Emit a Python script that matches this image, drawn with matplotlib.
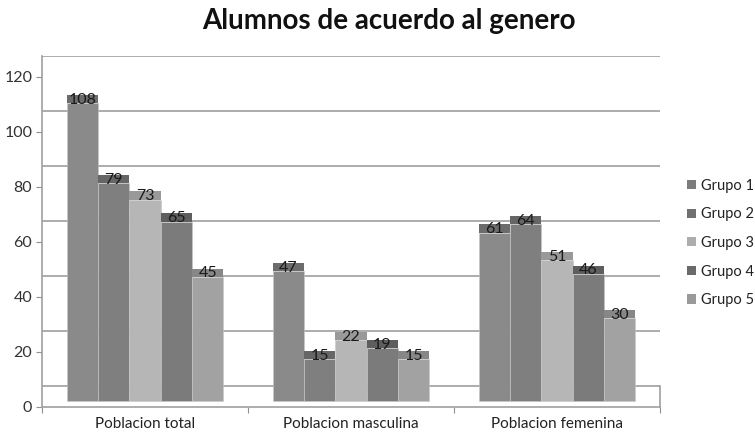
import matplotlib
matplotlib.use("Agg")
import matplotlib.pyplot as plt
from matplotlib.patches import Patch
import numpy as np

plt.rcParams['font.family'] = ['Lato', 'DejaVu Sans']

categories = ["Poblacion total", "Poblacion masculina", "Poblacion femenina"]
series_names = ["Grupo 1", "Grupo 2", "Grupo 3", "Grupo 4", "Grupo 5"]
grupo1 = [108, 47, 61]
grupo2 = [79, 15, 64]
grupo3 = [73, 22, 51]
grupo4 = [65, 19, 46]
grupo5 = [45, 15, 30]
series_values = [grupo1, grupo2, grupo3, grupo4, grupo5]
y_ticks = [0, 20, 40, 60, 80, 100, 120]

front_colors = ["#8a8a8a", "#7f7f7f", "#b6b6b6", "#7b7b7b", "#a2a2a2"]
cap_colors = ["#6c6c6c", "#666666", "#999999", "#5e5e5e", "#878787"]
legend_colors = ["#7c7c7c", "#707070", "#adadad", "#6a6a6a", "#9a9a9a"]

depth = 2.3      # front face lift (3D look)
cap_h = 3.0      # top face height
wall = 7.5       # back wall offset

fig = plt.figure(figsize=(7.55, 4.32), dpi=100)
ax = fig.add_axes([42/755, 1-407/432, (660-42)/755, (407-56)/432])
ax.set_xlim(-0.5, 2.5)
ax.set_ylim(0, 120 + wall)

# back-wall gridlines
for t in y_ticks:
    ax.axhline(t + wall, color="#acacac", lw=1.4, zorder=0)

x = np.arange(len(categories))
w = 0.152
for i, (vals, fc, cc) in enumerate(zip(series_values, front_colors, cap_colors)):
    xs = x + (i - 2) * w
    vals = np.array(vals)
    ax.bar(xs, vals, width=w, bottom=depth, color=fc, edgecolor="#c8c8c8",
           linewidth=0.4, zorder=2)
    ax.bar(xs, cap_h, width=w, bottom=vals + depth, color=cc, edgecolor="none",
           zorder=2)
    for xi, v in zip(xs, vals):
        ax.text(xi, v + depth + 1.3, str(v), ha="center", va="center",
                fontsize=11.5, color="#1a1a1a", zorder=3)

ax.set_yticks(y_ticks)
ax.set_yticklabels([str(t) for t in y_ticks], fontsize=11.5, color="#333333")
ax.set_xticks([-0.5, 0.5, 1.5, 2.5], minor=False)
ax.set_xticklabels([])
ax.set_xticks(x, minor=True)
ax.set_xticklabels(categories, minor=True, fontsize=11, color="#222222")
ax.tick_params(axis="x", which="minor", length=0, pad=7)
ax.tick_params(axis="x", which="major", length=4, color="#909090", direction="out")
ax.tick_params(axis="y", length=4, color="#909090", direction="out", pad=3)

ax.spines["top"].set_visible(False)
ax.spines["left"].set_color("#a0a0a0")
ax.spines["bottom"].set_color("#a0a0a0")
ax.spines["right"].set_color("#a0a0a0")
ax.spines["right"].set_bounds(0, wall)
for s in ["left", "bottom", "right"]:
    ax.spines[s].set_linewidth(1.2)

handles = [Patch(facecolor=c, edgecolor="none", label=n)
           for c, n in zip(legend_colors, series_names)]
fig.legend(handles=handles, loc="center left", bbox_to_anchor=(674/755, 1-243/432),
           frameon=False, fontsize=10.5, handlelength=0.6, handleheight=0.6,
           handletextpad=0.35, labelspacing=1.0, labelcolor="#222222")

fig.text(389/755, 1-21/432, "Alumnos de acuerdo al genero", ha="center",
         va="center", fontsize=20, fontweight="bold", color="#111111")

fig.savefig("out.png", dpi=100, facecolor="white")
